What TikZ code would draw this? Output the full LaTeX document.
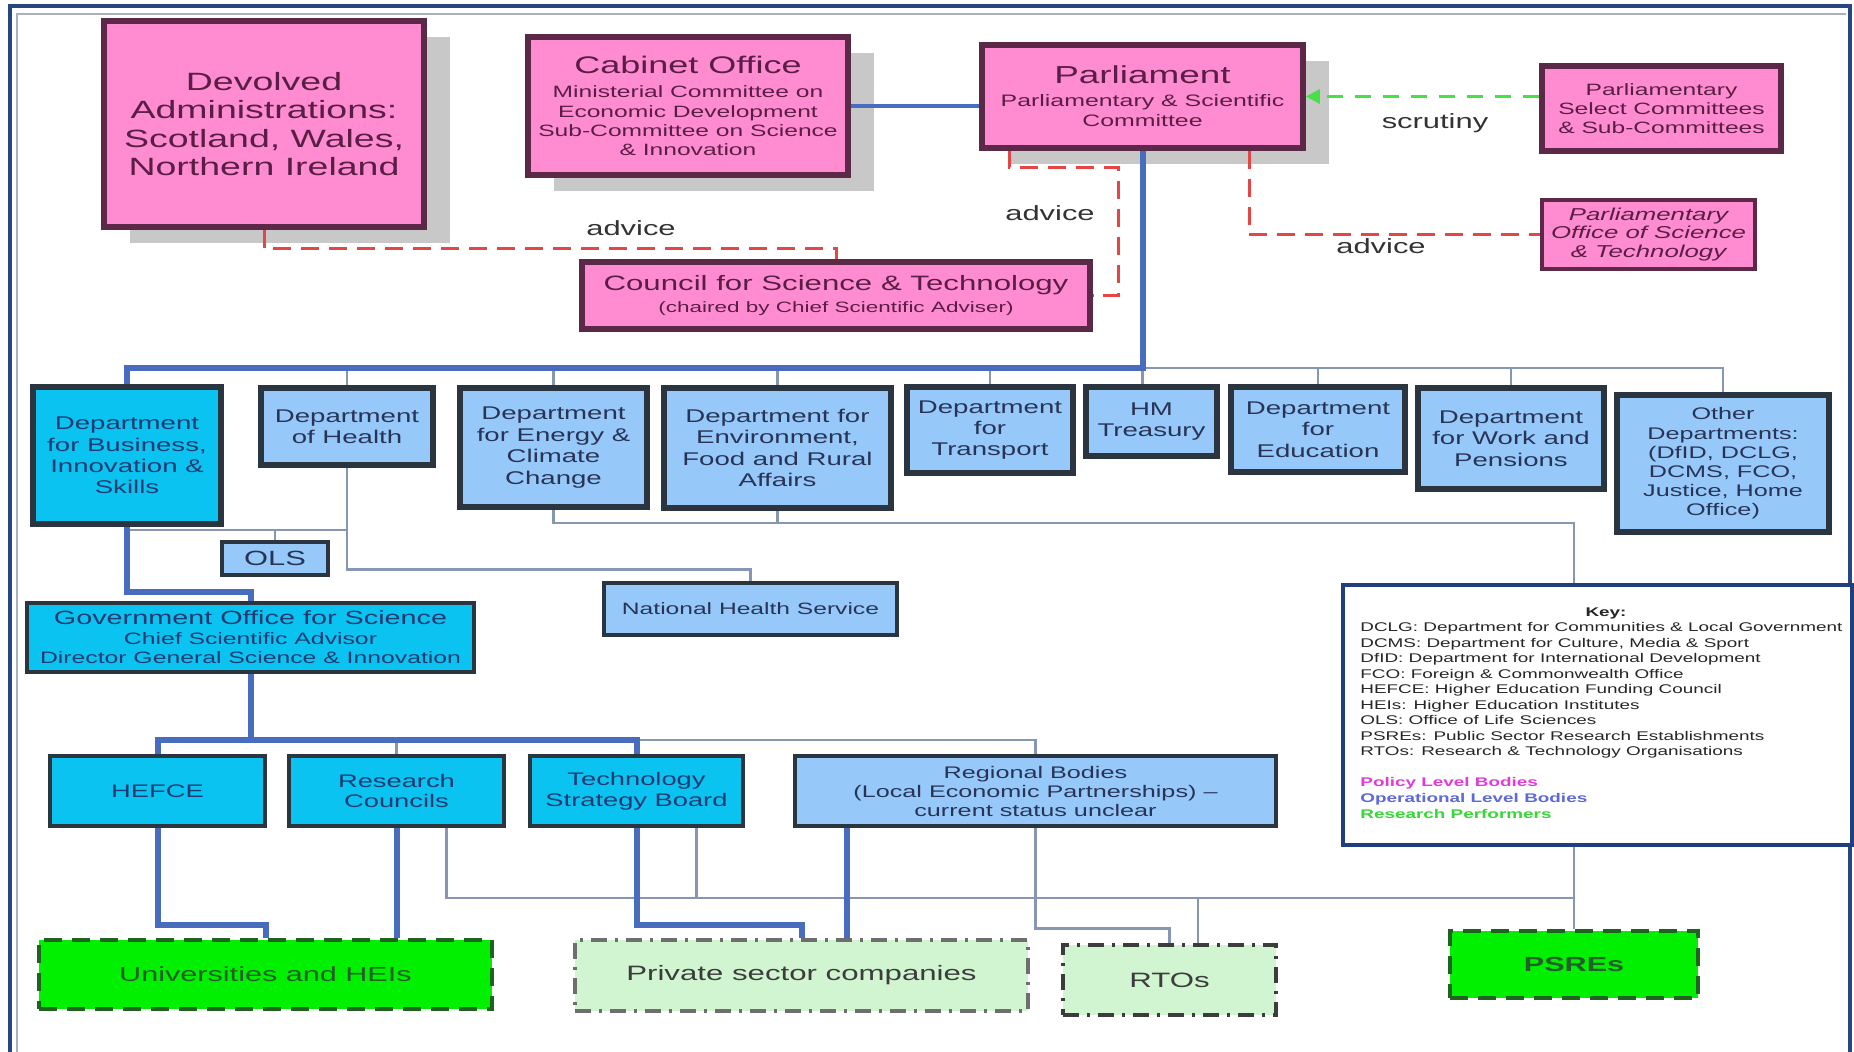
\documentclass[tikz,border=0pt]{standalone}
\usepackage{fontspec}
\setmainfont{Liberation Sans}[FakeStretch=1.5]
\usetikzlibrary{calc,shadows,arrows.meta}
\definecolor{pinkf}{RGB}{255,140,208}
\definecolor{pinkd}{RGB}{92,40,72}
\definecolor{pinkt}{RGB}{90,30,70}
\definecolor{cyanf}{RGB}{10,195,240}
\definecolor{lblue}{RGB}{150,200,250}
\definecolor{deptd}{RGB}{43,53,64}
\definecolor{deptt}{RGB}{40,52,85}
\definecolor{cyant}{RGB}{30,60,115}
\definecolor{brightg}{RGB}{0,240,0}
\definecolor{lightg}{RGB}{208,245,208}
\definecolor{darkg}{RGB}{30,100,30}
\definecolor{darkgt}{RGB}{35,95,40}
\definecolor{perfgrey}{RGB}{110,110,110}
\definecolor{perfdark}{RGB}{60,60,60}
\definecolor{bluec}{RGB}{72,108,190}
\definecolor{thinc}{RGB}{135,150,178}
\definecolor{redc}{RGB}{228,70,70}
\definecolor{greenc}{RGB}{70,225,70}
\definecolor{shadowc}{RGB}{200,200,200}
\definecolor{frameblue}{RGB}{40,70,130}
\definecolor{framegrey}{RGB}{170,178,190}
\definecolor{keyblue}{RGB}{31,63,127}
\definecolor{polc}{RGB}{225,60,215}
\definecolor{opc}{RGB}{95,105,215}
\definecolor{resc}{RGB}{55,215,55}
\newcommand\fsz[2]{\fontsize{#1}{#2}\selectfont}
\tikzset{
  sz/.style 2 args={minimum width={#1*0.5pt}, minimum height={#2*0.5pt}},
  box/.style={rectangle, inner sep=0pt, align=center},
  pinkbox/.style={box, fill=pinkf, draw=pinkd, line width=2.8pt, text=pinkt},
  shad/.style={general shadow={fill=shadowc, shadow xshift=13pt, shadow yshift=-8pt}},
  deptbox/.style={box, fill=lblue, draw=deptd, line width=2.8pt, text=deptt, font=\fsz{9.2}{10.7}},
  lbox/.style={box, fill=lblue, draw=deptd, line width=1.6pt, text=deptt},
  cyanbox/.style={box, fill=cyanf, draw=deptd, line width=1.8pt, text=cyant, font=\fsz{9.1}{10.4}},
  perf/.style={box, line width=2pt},
  trunk/.style={draw=bluec, line width=3pt},
  thinl/.style={draw=thinc, line width=1.4pt},
  advice/.style={draw=redc, line width=1.5pt, dash pattern=on 9pt off 5pt},
  scrut/.style={draw=greenc, line width=1.5pt, dash pattern=on 8pt off 6pt, -{Triangle[length=7pt,width=7pt]}},
  lbl/.style={inner sep=0pt, text=black!80, font=\fsz{10.3}{12}},
  keytxt/.style={inner sep=0pt, text=black!85, font=\fsz{6.3}{7.75}}
}
\begin{document}
\begin{tikzpicture}[x=0.5pt,y=-0.5pt]
\useasboundingbox (0,0) rectangle (1854,1052);
\fill[white] (0,0) rectangle (1854,1052);
% frame
\draw[framegrey, line width=1.2pt] (17,1052) -- (17,14) -- (1846,14);
\draw[frameblue, line width=1.6pt] (10,1052) -- (10,6) -- (1850,6) -- (1850,1052);

% top row
\node[pinkbox, shad, sz={320}{206}, font=\fsz{12.5}{14.2}] (dev) at (264,124) {Devolved\\Administrations:\\Scotland, Wales,\\Northern Ireland};
\node[pinkbox, shad, sz={320}{138}, font=\fsz{8.2}{9.6}] (cab) at (688,106) {{\fsz{12}{14}Cabinet Office}\\[2.4pt]Ministerial Committee on\\Economic Development\\Sub-Committee on Science\\\& Innovation};
\node[pinkbox, shad, sz={321}{103}, font=\fsz{8.3}{10}] (parl) at (1142.5,96.5) {{\fsz{12.3}{14}Parliament}\\[1.5pt]Parliamentary \& Scientific\\Committee};
\node[pinkbox, sz={239}{85}, font=\fsz{8.2}{9.5}] (sel) at (1661.5,108.5) {Parliamentary\\Select Committees\\\& Sub-Committees};
\node[pinkbox, line width=1.8pt, sz={213}{69}, font=\fsz{8.6}{9.4}\itshape] (post) at (1648.5,234.5) {Parliamentary\\Office of Science\\\& Technology};
\node[pinkbox, sz={508}{67}, font=\fsz{7.5}{11}] (council) at (836,295.5) {{\fsz{10.4}{12}Council for Science \& Technology}\\(chaired by Chief Scientific Adviser)};

% departments
\node[cyanbox, line width=3pt, sz={188}{137}, font=\fsz{9.2}{10.7}] (bis) at (127,455.5) {Department\\for Business,\\Innovation \&\\Skills};
\node[deptbox, sz={172}{77}] (health) at (347,426.5) {Department\\of Health};
\node[deptbox, sz={187}{119}] (energy) at (553.5,447.5) {Department\\for Energy \&\\Climate\\Change};
\node[deptbox, sz={227}{120}] (env) at (777.5,448) {Department for\\Environment,\\Food and Rural\\Affairs};
\node[deptbox, sz={166}{86}] (transport) at (990,430) {Department\\for\\Transport};
\node[deptbox, sz={131}{69}] (treasury) at (1151.5,421.5) {HM\\Treasury};
\node[deptbox, sz={174}{85}] (edu) at (1318,429.5) {Department\\for\\Education};
\node[deptbox, sz={186}{101}] (wp) at (1511,438.5) {Department\\for Work and\\Pensions};
\node[deptbox, sz={212}{137}, font=\fsz{8.4}{9.6}] (other) at (1723,463.5) {Other\\Departments:\\(DfID, DCLG,\\DCMS, FCO,\\Justice, Home\\Office)};

\node[lbox, sz={106}{33}, font=\fsz{10.3}{12}] (ols) at (275,558.5) {OLS};
\node[lbox, sz={293}{52}, font=\fsz{8.2}{10}] (nhs) at (750.5,609) {National Health Service};
\node[cyanbox, line width=1.6pt, sz={447}{69}, font=\fsz{8.25}{9.7}] (gos) at (250.5,637.5) {{\fsz{9.6}{11}Government Office for Science}\\Chief Scientific Advisor\\Director General Science \& Innovation};

% third row
\node[cyanbox, sz={215}{70}] (hefce) at (157.5,791) {HEFCE};
\node[cyanbox, sz={215}{70}] (rc) at (396.5,791) {Research\\Councils};
\node[cyanbox, sz={213}{70}] (tsb) at (636.5,791) {Technology\\Strategy Board};
\node[lbox, line width=1.8pt, sz={481}{70}, font=\fsz{8.4}{9.5}] (reg) at (1035.5,791) {Regional Bodies\\(Local Economic Partnerships) --\\current status unclear};

% research performers
\node[perf, fill=brightg, draw=darkg, dash pattern=on 9pt off 5pt, sz={453}{69}, text=darkgt, font=\fsz{10.2}{12}] (univ) at (265.5,974.5) {Universities and HEIs};
\node[perf, fill=lightg, draw=perfgrey, line width=1.6pt, dash pattern=on 8pt off 4pt on 1.5pt off 4pt, sz={453}{71}, text=perfdark, font=\fsz{10.4}{12}] (priv) at (801.5,975.5) {Private sector companies};
\node[perf, fill=lightg, draw=perfdark, dash pattern=on 8pt off 4pt on 1.5pt off 4pt, sz={213}{70}, text=perfdark, font=\fsz{10.4}{12}] (rto) at (1169.5,980) {RTOs};
\node[perf, fill=brightg, draw=darkg, dash pattern=on 9pt off 5pt, sz={248}{67}, text=darkgt, font=\fsz{10.2}{12}\bfseries] (psres) at (1574,964.5) {PSREs};

% connectors: departments bus
\coordinate (busR) at (1142.5,368);
\draw[thinl] (busR) -| (other.north);
\foreach \n in {health,energy,env,transport,edu,wp} \draw[thinl] (\n.north) -- (\n.north |- busR);
\draw[thinl] (busR) -- (busR |- treasury.north);
\draw[trunk] (parl.south) -- (busR) -| (bis.north);
\draw[trunk, line width=2.2pt] (cab.east) -- (cab.east -| parl.west);

% below departments
\coordinate (yols) at (0,530);
\draw[thinl] (bis.south |- yols) -- (health.south |- yols);
\draw[thinl] (ols.north) -- (ols.north |- yols);
\draw[thinl] (health.south) -- ++(0,102) -| (nhs.north);
\coordinate (yee) at (0,523);
\draw[thinl] (energy.south) |- (psres.north |- yee) -- (psres.north);
\draw[thinl] (env.south) -- (env.south |- yee);
\draw[trunk] (bis.south) -- ++(0,65) -| (gos.north);

% GO-Science bus
\coordinate (y2) at (0,740);
\draw[thinl] (tsb.north |- y2) -| (reg.north);
\draw[thinl] (rc.north) -- (rc.north |- y2);
\draw[trunk] (gos.south) -- (gos.south |- y2);
\draw[trunk] (hefce.north) |- (tsb.north |- y2) -- (tsb.north);

% to research performers
\coordinate (y3) at (0,898);
\coordinate (rcx) at ($(rc.south)+(50,0)$);
\coordinate (tsbx) at ($(tsb.south)+(60,0)$);
\coordinate (rtox) at ($(rto.north)+(28.5,0)$);
\coordinate (regx) at ($(reg.south)+(-188.5,0)$);
\draw[thinl] (rcx) |- (psres.north |- y3);
\draw[thinl] (tsbx) -- (tsbx |- y3);
\draw[thinl] (rtox |- y3) -- (rtox);
\draw[thinl] (reg.south) -- ++(0,101) -| (rto.north);
\draw[trunk] (hefce.south) -- ++(0,97) -| (univ.north);
\draw[trunk] (rc.south) -- (rc.south |- univ.north);
\draw[trunk] (tsb.south) -- ++(0,97) -| (priv.north);
\draw[trunk] (regx) -- (regx |- priv.north);

% advice and scrutiny
\draw[advice] (dev.south) -- ++(0,19) -| (council.north);
\draw[advice] ($(parl.south)+(-133.5,0)$) -- ++(0,17) -| ($(council.east)+(26,0)$) -- (council.east);
\draw[advice] ($(parl.south)+(106.5,0)$) |- (post.west);
\draw[scrut] (sel.west |- parl.east) -- (parl.east);
\node[lbl] (adv1) at (631,228) {advice};
\node[lbl] (adv2) at (1050,213) {advice};
\node[lbl] (adv3) at (1381,246) {advice};
\node[lbl] (scr) at (1435,123) {scrutiny};

% key
\node[draw=keyblue, fill=white, line width=1.6pt, inner sep=0pt, sz={509}{260}] (keybox) at (1597.5,715) {};
\node[keytxt, font=\fsz{6.3}{7.75}\bfseries] (keyt) at (1606,613) {Key:};
\foreach \t [count=\i from 0] in {{DCLG: Department for Communities \& Local Government},{DCMS: Department for Culture, Media \& Sport},{DfID: Department for International Development},{FCO: Foreign \& Commonwealth Office},{HEFCE: Higher Education Funding Council},{HEIs: Higher Education Institutes},{OLS: Office of Life Sciences},{PSREs: Public Sector Research Establishments},{RTOs: Research \& Technology Organisations}}
  \node[keytxt, anchor=base west] (k\i) at (1360,{632+15.5*\i}) {\t};
\node[keytxt, anchor=base west, text=polc, font=\fsz{6.3}{7.75}\bfseries] (kpol) at (1360,787) {Policy Level Bodies};
\node[keytxt, anchor=base west, text=opc, font=\fsz{6.3}{7.75}\bfseries] (kop) at (1360,803) {Operational Level Bodies};
\node[keytxt, anchor=base west, text=resc, font=\fsz{6.3}{7.75}\bfseries] (kres) at (1360,819) {Research Performers};
\end{tikzpicture}
\end{document}
